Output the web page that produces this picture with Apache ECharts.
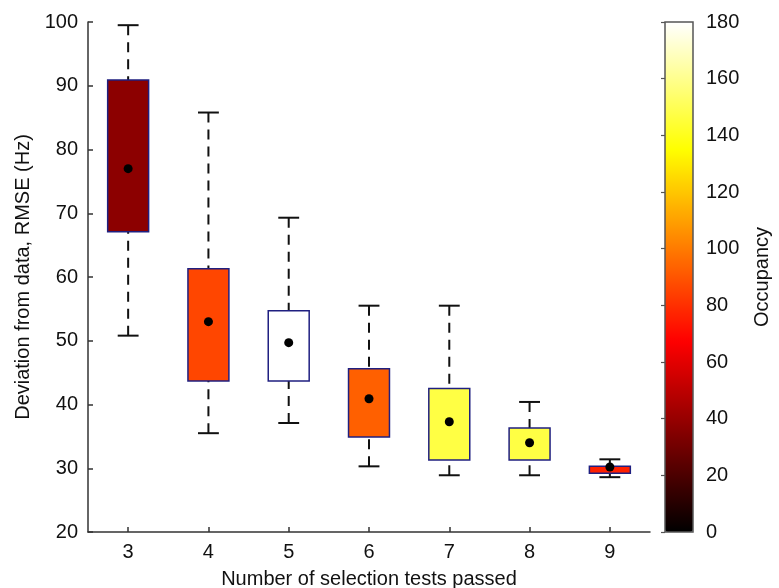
<!DOCTYPE html>
<html>
<head>
<meta charset="utf-8">
<script src="https://cdn.jsdelivr.net/npm/echarts@6/dist/echarts.min.js"></script>
<style>html,body{margin:0;padding:0;background:#fff;}#c{width:779px;height:588px;}</style>
</head>
<body>
<div id="c"></div>
<script>
const categories = ['3', '4', '5', '6', '7', '8', '9'];
const whiskerLow  = [50.8, 35.5, 37.1, 30.3, 28.9, 28.9, 28.6];
const q1          = [67.1, 43.7, 43.7, 34.9, 31.3, 31.3, 29.2];
const centers     = [77.0, 53.0, 49.7, 40.9, 37.3, 34.0, 30.2];
const q3          = [90.9, 61.3, 54.7, 45.6, 42.5, 36.3, 30.3];
const whiskerHigh = [99.5, 85.8, 69.3, 55.5, 55.5, 40.4, 31.4];
const occupancy   = [37, 86, 180, 93, 147, 147, 76];

const hotColors = ['#000000', '#550000', '#aa0000', '#ff0000', '#ff5500', '#ffaa00', '#ffff00', '#ffff80', '#ffffff'];

const boxData = categories.map((c, i) => [i, whiskerLow[i], q1[i], centers[i], q3[i], whiskerHigh[i], occupancy[i]]);

const FONT = 'Liberation Sans, Arial, Helvetica, sans-serif';
const chart = echarts.init(document.getElementById('c'), null, {renderer: 'canvas'});

chart.setOption({
  animation: false,
  backgroundColor: '#ffffff',
  textStyle: {fontFamily: FONT},
  grid: [
    {left: 88, top: 22, width: 562, height: 510, containLabel: false, outerBoundsMode: 'none'},
    {left: 665, top: 22, width: 28, height: 510, show: true, borderColor: '#555', borderWidth: 1.5, backgroundColor: 'transparent', z: 10, containLabel: false, outerBoundsMode: 'none'}
  ],
  xAxis: [
    {
      type: 'category', gridIndex: 0, data: categories, boundaryGap: true,
      name: 'Number of selection tests passed', nameLocation: 'middle', nameGap: 37,
      nameTextStyle: {fontSize: 20, color: '#111', fontFamily: FONT},
      axisLine: {show: true, lineStyle: {color: '#333', width: 1.5}},
      axisTick: {show: true, inside: true, length: 5, alignWithLabel: true, lineStyle: {color: '#333', width: 1.5}},
      axisLabel: {fontSize: 20, color: '#111', margin: 10, fontFamily: FONT},
      splitLine: {show: false}
    },
    {type: 'value', gridIndex: 1, show: false, min: 0, max: 1}
  ],
  yAxis: [
    {
      type: 'value', gridIndex: 0, min: 20, max: 100, interval: 10,
      name: 'Deviation from data, RMSE (Hz)', nameLocation: 'middle', nameGap: 51, nameRotate: 90,
      nameTextStyle: {fontSize: 20, color: '#111', fontFamily: FONT},
      axisLine: {show: true, lineStyle: {color: '#333', width: 1.5}},
      axisTick: {show: true, inside: true, length: 5, lineStyle: {color: '#333', width: 1.5}},
      axisLabel: {fontSize: 20, color: '#111', margin: 10, fontFamily: FONT},
      splitLine: {show: false}
    },
    {
      type: 'value', gridIndex: 1, min: 0, max: 180, interval: 20, position: 'right',
      name: 'Occupancy', nameLocation: 'middle', nameGap: 59, nameRotate: 90,
      nameTextStyle: {fontSize: 20, color: '#111', fontFamily: FONT},
      axisLine: {show: false},
      axisTick: {show: true, inside: true, length: 4, lineStyle: {color: '#555', width: 1.2}},
      axisLabel: {fontSize: 20, color: '#111', margin: 13, fontFamily: FONT},
      splitLine: {show: false}
    }
  ],
  visualMap: {
    type: 'continuous', min: 0, max: 180, dimension: 6, seriesIndex: 0,
    calculable: false, hoverLink: false, orient: 'vertical',
    left: 665, top: 22, itemWidth: 28, itemHeight: 510, padding: 0,
    text: null, showLabel: false,
    inRange: {color: hotColors}
  },
  series: [{
    type: 'custom',
    xAxisIndex: 0, yAxisIndex: 0,
    encode: {x: 0, y: [1, 2, 3, 4, 5]},
    data: boxData,
    renderItem: function (params, api) {
      const i = api.value(0);
      const lo = api.value(1), a = api.value(2), c = api.value(3), b = api.value(4), hi = api.value(5);
      const band = api.size([1, 0])[0];
      const bw = band * 0.51, cw = band * 0.26;
      const pLo = api.coord([i, lo]), pA = api.coord([i, a]), pC = api.coord([i, c]);
      const pB = api.coord([i, b]), pHi = api.coord([i, hi]);
      const x = pA[0];
      const color = api.visual('color');
      const dashStyle = {stroke: '#111', lineWidth: 2, lineDash: [10, 7]};
      const capStyle = {stroke: '#111', lineWidth: 2};
      return {
        type: 'group',
        children: [
          {type: 'line', shape: {x1: x, y1: pHi[1], x2: x, y2: pB[1]}, style: dashStyle},
          {type: 'line', shape: {x1: x, y1: pLo[1], x2: x, y2: pA[1]}, style: dashStyle},
          {type: 'line', shape: {x1: x - cw / 2, y1: pHi[1], x2: x + cw / 2, y2: pHi[1]}, style: capStyle},
          {type: 'line', shape: {x1: x - cw / 2, y1: pLo[1], x2: x + cw / 2, y2: pLo[1]}, style: capStyle},
          {type: 'rect', shape: {x: x - bw / 2, y: pB[1], width: bw, height: pA[1] - pB[1]},
            style: {fill: color, stroke: '#1f1f80', lineWidth: 1.5}},
          {type: 'circle', shape: {cx: x, cy: pC[1], r: 4.5}, style: {fill: '#000'}}
        ]
      };
    }
  }]
});
</script>
</body>
</html>
